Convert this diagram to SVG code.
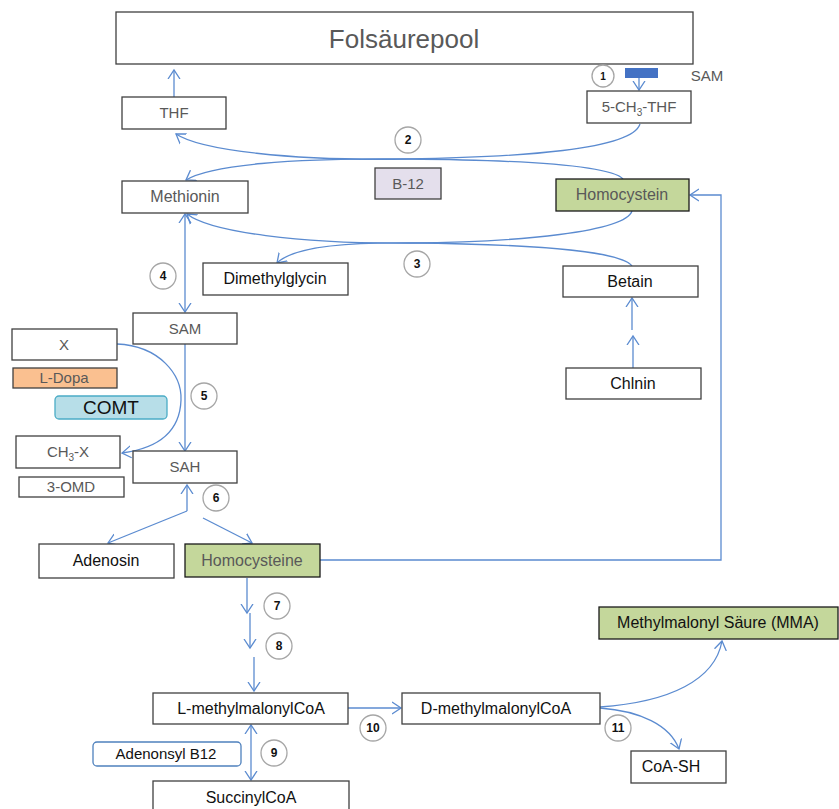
<svg xmlns="http://www.w3.org/2000/svg" width="839" height="809" viewBox="0 0 839 809">
<style>
.box{fill:#fff;stroke:#404040;stroke-width:1.3}
.green{fill:#C4D79B;stroke:#1a1a1a;stroke-width:1.3}
.t{font-family:"Liberation Sans",Arial,sans-serif;font-size:16px;text-anchor:middle;fill:#111}
.g{fill:#595959}
.num{font-family:"Liberation Sans",Arial,sans-serif;font-size:12px;font-weight:bold;text-anchor:middle;fill:#111}
.circ{fill:#fff;stroke:#A6A6A6;stroke-width:1.3}
.c{fill:none;stroke:#5B8BD0;stroke-width:1.3}
.a{marker-end:url(#ah)}
.d{marker-start:url(#ah);marker-end:url(#ah)}
</style>
<defs>
<marker id="ah" markerUnits="userSpaceOnUse" markerWidth="14" markerHeight="14" refX="9" refY="6" orient="auto-start-reverse" viewBox="0 0 14 12">
<path d="M0,0 L9,6 L0,12" fill="none" stroke="#5B8BD0" stroke-width="1.3"/>
</marker>
</defs>
<rect width="839" height="809" fill="#fff"/>

<g id="connectors">
<path class="c a" d="M174,97 V70"/>
<path class="c a" d="M639,78 V90"/>
<path class="c a" d="M640,124 C632,150 520,157 407,159 C290,161 200,150 176,134"/>
<path class="c a" d="M623,179 C610,165 520,160 407,159 C290,158 210,165 186,180"/>
<path class="c a" d="M632,211 C625,232 520,242 410,243 C300,244 210,232 187,214"/>
<path class="c a" d="M632,266 C620,250 520,244 410,243 C330,242 290,250 277,263"/>
<path class="c a" d="M633,368 V336"/>
<path class="c a" d="M632,330 V298"/>
<path class="c d" d="M185,214 V312"/>
<path class="c a" d="M185,344 V451"/>
<path class="c a" d="M117,344 C160,346 182,375 181,400 C180,430 160,448 122,453"/>
<path class="c a" d="M187,511 V485"/>
<path class="c a" d="M187,511 L108,543"/>
<path class="c a" d="M203,518 L252,543"/>
<path class="c a" d="M320,560 H721 V195 H690"/>
<path class="c a" d="M247,578 V613"/>
<path class="c a" d="M250,613 V648"/>
<path class="c a" d="M254,657 V691"/>
<path class="c a" d="M348,708 H401"/>
<path class="c d" d="M251,725 V780"/>
<path class="c a" d="M600,707 C670,702 715,680 722,641"/>
<path class="c a" d="M600,708 C640,711 670,725 679,749"/>
</g>

<g id="folsaeurepool"><rect class="box" x="116" y="12" width="577" height="52"/><text class="t g" x="404" y="48" font-size="26" style="font-size:26px">Folsäurepool</text></g>
<g id="thf"><rect class="box" x="122" y="97" width="104" height="32"/><text class="t g" x="174" y="118" style="font-size:15px">THF</text></g>
<g id="c1"><circle class="circ" cx="603" cy="76" r="11"/><text class="num" x="603" y="80" style="font-size:10px">1</text></g>
<g id="sam-cofactor"><rect x="625" y="68" width="33" height="10" fill="#4472C4"/><text class="t g" x="707" y="81" style="font-size:15px">SAM</text></g>
<g id="ch3thf"><rect class="box" x="587" y="91" width="104" height="32"/><text class="t g" x="639" y="112" style="font-size:15px">5-CH<tspan font-size="10" dy="4">3</tspan><tspan dy="-4">-THF</tspan></text></g>
<g id="c2"><circle class="circ" cx="408" cy="140" r="13"/><text class="num" x="408" y="144">2</text></g>
<g id="b12"><rect x="375" y="168" width="66" height="31" fill="#E4DFEC" stroke="#404040" stroke-width="1.3"/><text class="t g" x="408" y="189" style="font-size:15px">B-12</text></g>
<g id="methionin"><rect class="box" x="122" y="181" width="126" height="32"/><text class="t g" x="185" y="202">Methionin</text></g>
<g id="homocystein"><rect class="green" x="556" y="179" width="133" height="32"/><text class="t g" x="622" y="200">Homocystein</text></g>
<g id="c3"><circle class="circ" cx="417" cy="264" r="13"/><text class="num" x="417" y="268">3</text></g>
<g id="dimethylglycin"><rect class="box" x="203" y="263" width="145" height="32"/><text class="t" x="275" y="284">Dimethylglycin</text></g>
<g id="betain"><rect class="box" x="563" y="266" width="135" height="31"/><text class="t" x="630" y="287">Betain</text></g>
<g id="chlnin"><rect class="box" x="566" y="368" width="135" height="31"/><text class="t" x="633" y="389">Chlnin</text></g>
<g id="c4"><circle class="circ" cx="163" cy="276" r="13"/><text class="num" x="163" y="280">4</text></g>
<g id="sam"><rect class="box" x="133" y="313" width="104" height="31"/><text class="t g" x="185" y="334" style="font-size:15px">SAM</text></g>
<g id="x"><rect class="box" x="12" y="329" width="105" height="31"/><text class="t g" x="64" y="350" style="font-size:15px">X</text></g>
<g id="ldopa"><rect x="13" y="368" width="104" height="20" fill="#FAC090" stroke="#404040" stroke-width="1.3"/><text class="t g" x="64" y="383" style="font-size:15px">L-Dopa</text></g>
<g id="comt"><rect x="55" y="396" width="112" height="23" rx="4" fill="#B7DEE8" stroke="#4BACC6" stroke-width="1.3"/><text class="t" x="111" y="414" style="font-size:19px">COMT</text></g>
<g id="c5"><circle class="circ" cx="204" cy="396" r="13"/><text class="num" x="204" y="400">5</text></g>
<g id="ch3x"><rect class="box" x="16" y="436" width="104" height="32"/><text class="t g" x="68" y="457" style="font-size:15px">CH<tspan font-size="10" dy="4">3</tspan><tspan dy="-4">-X</tspan></text></g>
<g id="sah"><rect class="box" x="133" y="451" width="104" height="32"/><text class="t g" x="185" y="472" style="font-size:15px">SAH</text></g>
<g id="omd"><rect class="box" x="19" y="477" width="105" height="20"/><text class="t g" x="71" y="492" style="font-size:15px">3-OMD</text></g>
<g id="c6"><circle class="circ" cx="216" cy="498" r="13"/><text class="num" x="216" y="502">6</text></g>
<g id="adenosin"><rect class="box" x="39" y="544" width="135" height="34"/><text class="t" x="106" y="566">Adenosin</text></g>
<g id="homocysteine"><rect class="green" x="185" y="544" width="135" height="33"/><text class="t g" x="252" y="566">Homocysteine</text></g>
<g id="c7"><circle class="circ" cx="277" cy="606" r="13"/><text class="num" x="277" y="610">7</text></g>
<g id="c8"><circle class="circ" cx="279" cy="646" r="13"/><text class="num" x="279" y="650">8</text></g>
<g id="mma"><rect class="green" x="599" y="607" width="239" height="32"/><text class="t" x="718" y="628">Methylmalonyl Säure (MMA)</text></g>
<g id="lmethyl"><rect class="box" x="153" y="693" width="195" height="31"/><text class="t" x="251" y="714">L-methylmalonylCoA</text></g>
<g id="dmethyl"><rect class="box" x="402" y="693" width="198" height="31"/><text class="t" x="496" y="714">D-methylmalonylCoA</text></g>
<g id="c10"><circle class="circ" cx="373" cy="728" r="13"/><text class="num" x="373" y="732">10</text></g>
<g id="c11"><circle class="circ" cx="618" cy="728" r="13"/><text class="num" x="618" y="732">11</text></g>
<g id="coash"><rect class="box" x="631" y="751" width="95" height="32"/><text class="t" x="671" y="772">CoA-SH</text></g>
<g id="adenonsyl"><rect x="93" y="742" width="148" height="24" rx="4" fill="#fff" stroke="#4F81BD" stroke-width="1.3"/><text class="t" x="166" y="759" style="font-size:15px">Adenonsyl B12</text></g>
<g id="c9"><circle class="circ" cx="274" cy="753" r="13"/><text class="num" x="274" y="757">9</text></g>
<g id="succinyl"><rect class="box" x="153" y="781" width="196" height="34"/><text class="t" x="251" y="803">SuccinylCoA</text></g>
</svg>
